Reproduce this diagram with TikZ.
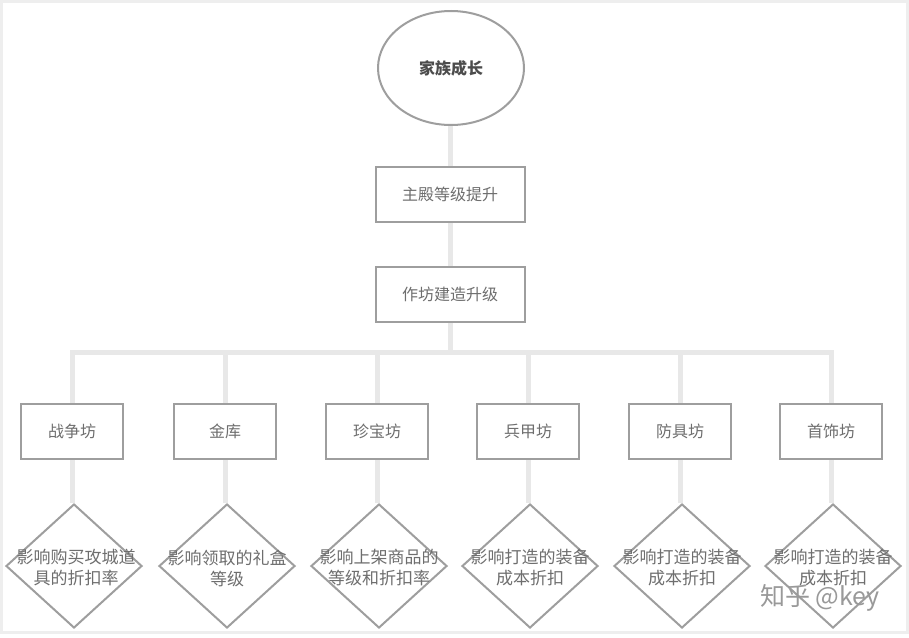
\documentclass[tikz,border=0pt]{standalone}
\usepackage{fontspec}
\setmainfont{Noto Sans CJK SC}
\usetikzlibrary{shapes.geometric,backgrounds}
\definecolor{edgegray}{HTML}{9E9E9E}
\definecolor{linkgray}{HTML}{E8E8E8}
\definecolor{txtgray}{HTML}{6E6E6E}
\definecolor{framegray}{HTML}{EEEEEE}
\tikzset{
  box/.style={draw=edgegray, line width=2pt, fill=white, minimum width=149pt, minimum height=55pt, inner sep=0pt, text=txtgray, font=\fontsize{16}{20}\selectfont},
  small/.style={box, minimum width=102pt},
  oval/.style={ellipse, draw=edgegray, line width=2pt, fill=white, minimum width=146pt, minimum height=114pt, inner sep=0pt, text=black!70, font=\fontsize{16}{20}\selectfont\bfseries},
  dia/.style={diamond, draw=edgegray, line width=2pt, fill=white, minimum width=136pt, minimum height=124pt, inner sep=0pt},
  dtext/.style={text=txtgray, align=center, font=\fontsize{17}{21}\selectfont, inner sep=0pt},
  link/.style={draw=linkgray, line width=5pt},
  mark wm/.style={text=black!40, font=\fontsize{25}{28}\selectfont}
}
\begin{document}
\begin{tikzpicture}[x=1pt,y=-1pt]
\useasboundingbox (0,0) rectangle (909,637);
\draw[framegray, line width=3pt] (1.5,1.5) rectangle (907.5,632);

\node[oval] (top) at (451,68) {家族成长};
\node[box] (z1) at (450,194) {主殿等级提升};
\node[box] (z2) at (450,294) {作坊建造升级};
\coordinate (bar) at (450,352);

\node[small] (b1) at (72,431) {战争坊};
\node[small] (b2) at (225,431) {金库};
\node[small] (b3) at (377,431) {珍宝坊};
\node[small] (b4) at (528,431) {兵甲坊};
\node[small] (b5) at (680,431) {防具坊};
\node[small] (b6) at (831,431) {首饰坊};

\node[dia] (d1) at (74,566) {};
\node[dia] (d2) at (227,566) {};
\node[dia] (d3) at (379,566) {};
\node[dia] (d4) at (530,566) {};
\node[dia] (d5) at (682,566) {};
\node[dia] (d6) at (833,566) {};

\node[dtext] (t1) at (76,568) {影响购买攻城道\\具的折扣率};
\node[dtext] (t2) at (227,568) {影响领取的礼盒\\等级};
\node[dtext] (t3) at (379,568) {影响上架商品的\\等级和折扣率};
\node[dtext] (t4) at (530,568) {影响打造的装备\\成本折扣};
\node[dtext] (t5) at (682,568) {影响打造的装备\\成本折扣};
\node[dtext] (t6) at (833,568) {影响打造的装备\\成本折扣};

\node[mark wm] (wm) at (820,598) {知乎 @key};

\begin{pgfonlayer}{background}
\draw[link] (top.south -| z1.north) -- (z1.north);
\draw[link] (z1.south) -- (z2.north);
\foreach \i in {1,...,6}{
  \draw[link] (z2.south) -- (bar -| z2.south) -| (b\i.north);
  \draw[link] (b\i.south) -- (b\i.south |- d\i.north);
}
\end{pgfonlayer}
\end{tikzpicture}
\end{document}
